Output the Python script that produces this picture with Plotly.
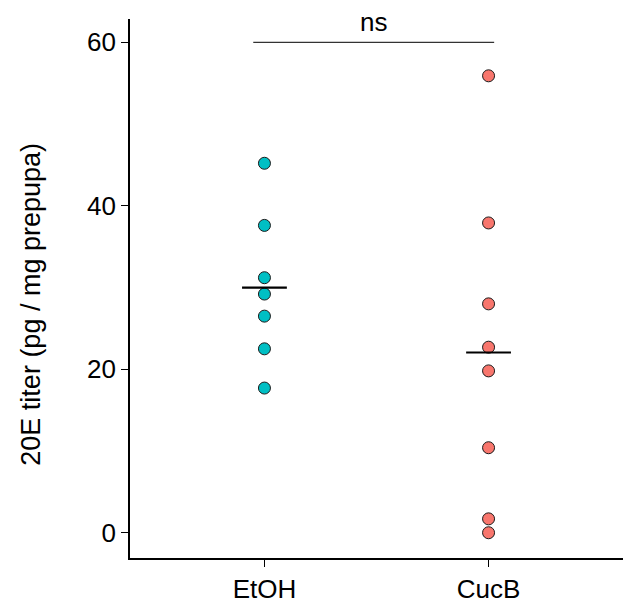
import plotly.graph_objects as go

# 20E titer per prepupa, by treatment
groups = ["EtOH", "CucB"]
etoh_titer = [45.2, 37.6, 31.2, 29.2, 26.5, 22.5, 17.7]
cucb_titer = [55.9, 37.9, 28.0, 22.7, 19.8, 10.4, 1.7, 0.0]
fill_colors = ["#00BFC4", "#F8766D"]
signif_label = "ns"
y_title = "20E titer (pg / mg prepupa)"
bracket_y = 60
y_ticks = [0, 20, 40, 60]

FONT = "Liberation Sans, Arial, sans-serif"

fig = go.Figure()

for name, vals, col in zip(groups, [etoh_titer, cucb_titer], fill_colors):
    fig.add_trace(go.Scatter(
        x=[name] * len(vals), y=vals, mode="markers",
        marker=dict(size=12, color=col, line=dict(color="#1a1a1a", width=1)),
        showlegend=False, hoverinfo="y",
    ))

# group means as short horizontal bars
for i, vals in enumerate([etoh_titer, cucb_titer]):
    m = sum(vals) / len(vals)
    fig.add_shape(type="line", xref="x", yref="y",
                  x0=i - 0.1, x1=i + 0.1, y0=m, y1=m,
                  line=dict(color="black", width=2.2))

# significance bracket
fig.add_shape(type="line", xref="x", yref="y",
              x0=-0.05, x1=1.025, y0=bracket_y, y1=bracket_y,
              line=dict(color="#333333", width=1.2))
fig.add_annotation(x=0.4875, y=bracket_y, xref="x", yref="y",
                   text=signif_label, showarrow=False, yanchor="bottom",
                   yshift=3, font=dict(family=FONT, size=26, color="black"))

# rotated y-axis title
fig.add_annotation(x=0, y=0.47, xref="paper", yref="paper",
                   text=y_title, textangle=-90, showarrow=False,
                   xanchor="center", yanchor="middle", xshift=-99,
                   font=dict(family=FONT, size=27, color="black"))

fig.update_layout(
    width=634, height=606,
    margin=dict(l=130, r=11, t=19, b=48, autoexpand=False),
    plot_bgcolor="white", paper_bgcolor="white",
    font=dict(family=FONT, color="black"),
)
fig.update_xaxes(
    type="category", categoryorder="array", categoryarray=groups,
    range=[-0.6, 1.6], showgrid=False, zeroline=False, automargin=False,
    showline=True, linecolor="black", linewidth=1.6,
    ticks="outside", ticklen=7, tickwidth=1.4, tickcolor="black",
    tickfont=dict(family=FONT, size=26, color="black"),
)
fig.update_yaxes(
    range=[-3.09, 62.85], tickvals=y_ticks, showgrid=False, zeroline=False,
    automargin=False,
    showline=True, linecolor="black", linewidth=1.6,
    ticks="outside", ticklen=7, tickwidth=1.4, tickcolor="black",
    tickfont=dict(family=FONT, size=26, color="black"),
)

fig.write_html("out.html")
